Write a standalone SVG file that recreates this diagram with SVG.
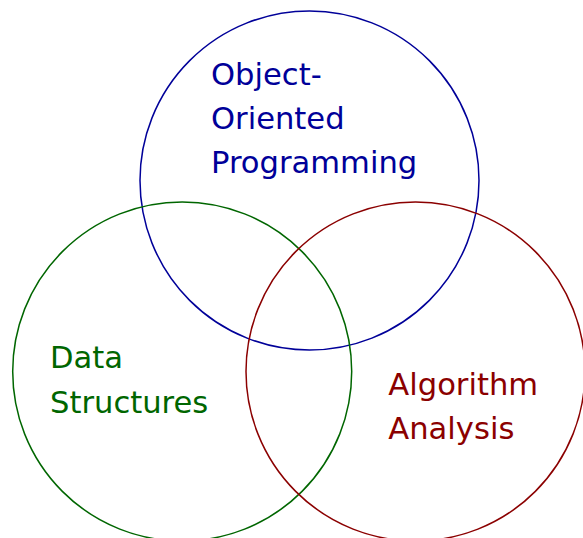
<svg xmlns="http://www.w3.org/2000/svg" width="583" height="538" viewBox="0 0 583 538">
<style>
.c{fill:none;stroke-width:1.5}
.t{font-family:"DejaVu Sans","Liberation Sans",sans-serif;font-size:30.6px}
.blue{stroke:#000099}.green{stroke:#006600}.red{stroke:#8b0000}
.tb{fill:#000099}.tg{fill:#006600}.tr{fill:#8b0000}
</style>
<rect width="583" height="538" fill="#fff"/>
<g id="oop">
<circle class="c blue" cx="309.5" cy="180.5" r="169.5"/>
<text class="t tb" x="211" y="85">Object-</text>
<text class="t tb" x="211" y="129">Oriented</text>
<text class="t tb" x="211" y="173">Programming</text>
</g>
<g id="ds">
<circle class="c green" cx="182.2" cy="371.5" r="169.5"/>
<text class="t tg" x="50" y="367.7">Data</text>
<text class="t tg" x="50" y="412.7">Structures</text>
</g>
<g id="aa">
<circle class="c red" cx="415.5" cy="371.5" r="169.5"/>
<text class="t tr" x="388.3" y="395">Algorithm</text>
<text class="t tr" x="388.3" y="439.3">Analysis</text>
</g>
<g id="connectors"/>
</svg>
